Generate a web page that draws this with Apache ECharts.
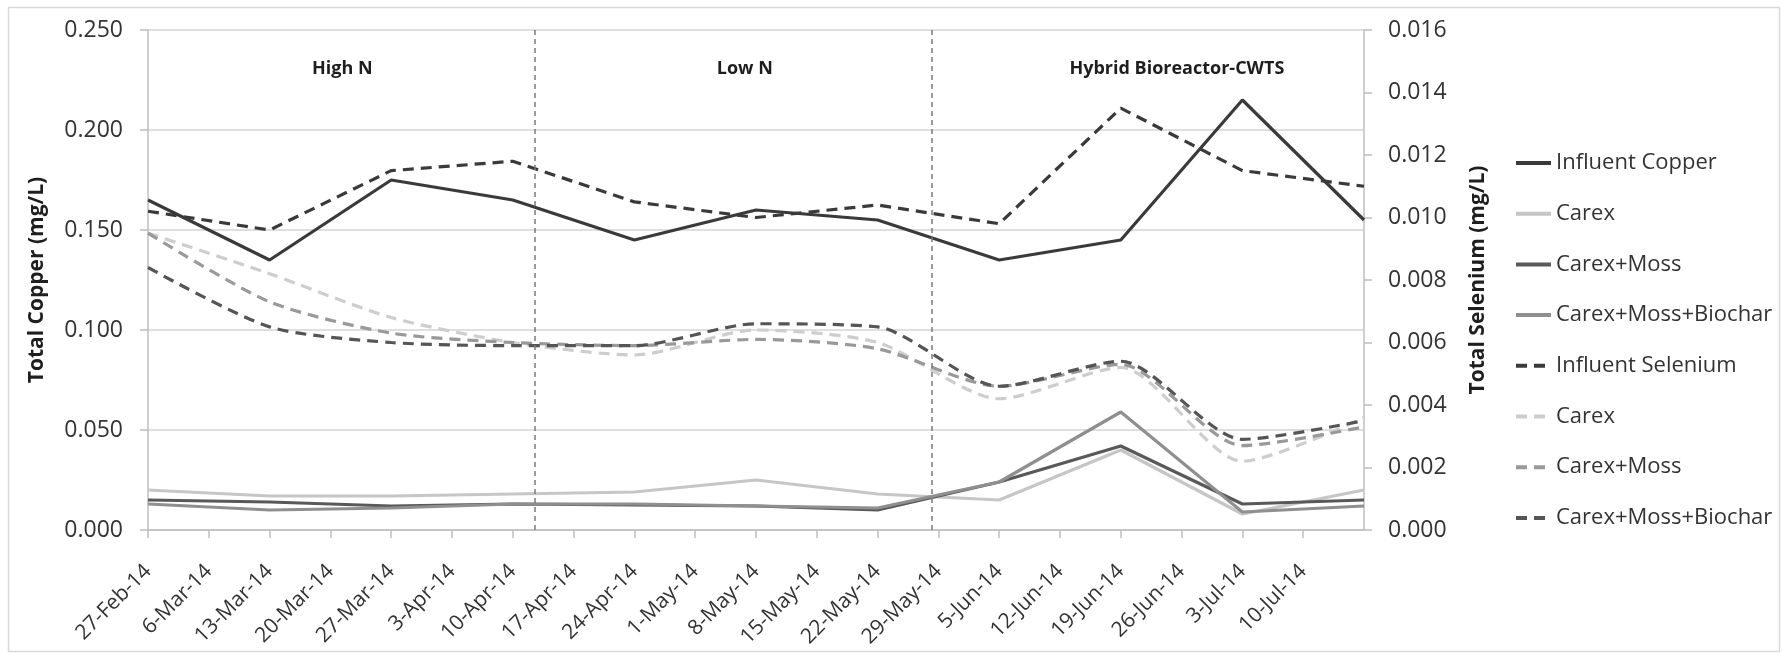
<!DOCTYPE html>
<html>
<head>
<meta charset="utf-8">
<script src="https://cdn.jsdelivr.net/npm/echarts@6/dist/echarts.min.js"></script>
<style>
  html, body { margin: 0; padding: 0; background: #fff; }
  #chart { width: 1791px; height: 656px; }
</style>
</head>
<body>
<div id="chart"></div>
<script>
// Sampling dates (every two weeks)
const sampleDates = ['2014-02-27', '2014-03-13', '2014-03-27', '2014-04-10', '2014-04-24', '2014-05-08',
                     '2014-05-22', '2014-06-05', '2014-06-19', '2014-07-03', '2014-07-17'];

// Total copper, mg/L (left axis)
const influentCopper   = [0.165, 0.135, 0.175, 0.165, 0.145, 0.160, 0.155, 0.135, 0.145, 0.215, 0.155];
const carexCopper      = [0.020, 0.017, 0.017, 0.018, 0.019, 0.025, 0.018, 0.015, 0.040, 0.008, 0.020];
const carexMossCopper  = [0.015, 0.014, 0.012, 0.013, 0.0125, 0.012, 0.010, 0.024, 0.042, 0.013, 0.015];
const biocharCopper    = [0.013, 0.010, 0.011, 0.013, 0.013, 0.012, 0.011, 0.024, 0.059, 0.009, 0.012];

// Total selenium, mg/L (right axis)
const influentSelenium  = [0.0102, 0.0096, 0.0115, 0.0118, 0.0105, 0.0100, 0.0104, 0.0098, 0.0135, 0.0115, 0.0110];
const carexSelenium     = [0.0095, 0.0082, 0.0068, 0.0060, 0.0056, 0.0064, 0.0060, 0.0042, 0.0052, 0.0022, 0.0036];
const carexMossSelenium = [0.0095, 0.0073, 0.0063, 0.0060, 0.0059, 0.0061, 0.0058, 0.0046, 0.0053, 0.0027, 0.0033];
const biocharSelenium   = [0.0084, 0.0065, 0.0060, 0.0059, 0.0059, 0.0066, 0.0065, 0.0046, 0.0054, 0.0029, 0.0035];

const legendLabels = ['Influent Copper', 'Carex', 'Carex+Moss', 'Carex+Moss+Biochar',
                      'Influent Selenium', 'Carex', 'Carex+Moss', 'Carex+Moss+Biochar'];

// Treatment phases
const phaseBreaks = ['2014-04-12T14:00:00Z', '2014-05-28T05:30:00Z'];
const phaseLabels = ['High N', 'Low N', 'Hybrid Bioreactor-CWTS'];
const phaseLabelAt = ['2014-03-21T09:00:00Z', '2014-05-06T17:00:00Z', '2014-06-25T11:00:00Z'];
const phaseLabelLevel = 0.2305;

// Axis ranges
const axisStart = '2014-02-27';
const axisEnd = '2014-07-17';
const MONTHS = ['Jan','Feb','Mar','Apr','May','Jun','Jul','Aug','Sep','Oct','Nov','Dec'];
const DAY = 86400000;

function toTs(s) { return Date.parse(s.length === 10 ? s + 'T00:00:00Z' : s); }
function fmtDate(v) {
  const d = new Date(v);
  return d.getUTCDate() + '-' + MONTHS[d.getUTCMonth()] + '-' + String(d.getUTCFullYear()).slice(2);
}
function pairs(values) { return sampleDates.map((d, i) => [toTs(d), values[i]]); }

const FONT = 'Open Sans';
const DASH = [11, 7];
const seriesDefs = [
  { values: influentCopper,    axis: 0, color: '#3a3a3a', dash: 'solid' },
  { values: carexCopper,       axis: 0, color: '#c6c6c6', dash: 'solid' },
  { values: carexMossCopper,   axis: 0, color: '#595959', dash: 'solid' },
  { values: biocharCopper,     axis: 0, color: '#8f8f8f', dash: 'solid' },
  { values: influentSelenium,  axis: 1, color: '#3a3a3a', dash: DASH },
  { values: carexSelenium,     axis: 1, color: '#cdcdcd', dash: DASH, smooth: 0.25 },
  { values: carexMossSelenium, axis: 1, color: '#999999', dash: DASH, smooth: 0.25 },
  { values: biocharSelenium,   axis: 1, color: '#555555', dash: DASH, smooth: 0.25 }
];

const series = seriesDefs.map((s, i) => ({
  name: i + '|' + legendLabels[i],
  type: 'line',
  yAxisIndex: s.axis,
  data: pairs(s.values),
  symbol: 'none',
  showSymbol: false,
  smooth: s.smooth || false,
  color: s.color,
  lineStyle: { color: s.color, width: 3.2, type: s.dash, cap: 'butt' },
  emphasis: { disabled: true }
}));

// Phase dividers and phase titles ride on the first series
series[0].markLine = {
  silent: true,
  symbol: ['none', 'none'],
  label: { show: false },
  lineStyle: { color: '#7a7a7a', width: 1.5, type: [5, 4] },
  data: phaseBreaks.map(d => ({ xAxis: toTs(d) }))
};
series[0].markPoint = {
  silent: true,
  symbol: 'circle',
  symbolSize: 1,
  itemStyle: { color: 'rgba(0,0,0,0)' },
  label: {
    show: true, position: 'inside', formatter: p => p.name,
    fontFamily: FONT, fontWeight: 'bold', fontSize: 18, color: '#1e1e1e'
  },
  data: phaseLabels.map((t, i) => ({ name: t, coord: [toTs(phaseLabelAt[i]), phaseLabelLevel] }))
};

const chart = echarts.init(document.getElementById('chart'), null, { renderer: 'canvas' });
chart.setOption({
  animation: false,
  backgroundColor: '#ffffff',
  textStyle: { fontFamily: FONT },
  graphic: [{
    type: 'rect', silent: true,
    shape: { x: 8.5, y: 7.5, width: 1771, height: 644 },
    style: { fill: 'none', stroke: '#d9d9d9', lineWidth: 1.5 }
  }],
  grid: { left: 148, right: 427, top: 30, bottom: 126, containLabel: false },
  legend: {
    orient: 'vertical',
    left: 1509,
    top: 146,
    itemWidth: 35,
    itemHeight: 24,
    itemGap: 26.7,
    itemStyle: { color: 'rgba(0,0,0,0)', borderWidth: 0, opacity: 0 },
    lineStyle: { width: 4 },
    textStyle: { fontFamily: FONT, fontSize: 22, color: '#333', lineHeight: 24 },
    formatter: n => n.split('|')[1],
    data: series.map(s => s.name)
  },
  xAxis: {
    type: 'value',
    min: toTs(axisStart),
    max: toTs(axisEnd),
    interval: 7 * DAY,
    splitLine: { show: false },
    axisLine: { show: true, lineStyle: { color: '#bfbfbf', width: 1.5 } },
    axisTick: { show: true, length: 8, lineStyle: { color: '#bfbfbf', width: 1.5 } },
    axisLabel: {
      formatter: fmtDate, rotate: 45, margin: 38, showMaxLabel: false,
      fontFamily: FONT, fontSize: 21, color: '#333'
    }
  },
  yAxis: [{
    type: 'value',
    min: 0, max: 0.25, interval: 0.05,
    name: 'Total Copper (mg/L)',
    nameLocation: 'middle',
    nameRotate: 90,
    nameGap: 100,
    nameTextStyle: { fontFamily: FONT, fontWeight: 'bold', fontSize: 21, color: '#1e1e1e' },
    axisLine: { show: true, lineStyle: { color: '#bfbfbf', width: 1.5 } },
    axisTick: { show: true, length: 8, lineStyle: { color: '#bfbfbf', width: 1.5 } },
    splitLine: { show: true, lineStyle: { color: '#d4d4d4', width: 1.5 } },
    axisLabel: { formatter: v => v.toFixed(3), margin: 25, fontFamily: FONT, fontSize: 23, color: '#333' }
  }, {
    type: 'value',
    position: 'right',
    min: 0, max: 0.016, interval: 0.002,
    name: 'Total Selenium (mg/L)',
    nameLocation: 'middle',
    nameRotate: 90,
    nameGap: 104,
    nameTextStyle: { fontFamily: FONT, fontWeight: 'bold', fontSize: 21, color: '#1e1e1e' },
    axisLine: { show: true, lineStyle: { color: '#bfbfbf', width: 1.5 } },
    axisTick: { show: true, length: 8, lineStyle: { color: '#bfbfbf', width: 1.5 } },
    splitLine: { show: false },
    axisLabel: { formatter: v => v.toFixed(3), margin: 24, fontFamily: FONT, fontSize: 23, color: '#333' }
  }],
  series: series
});
</script>
</body>
</html>
